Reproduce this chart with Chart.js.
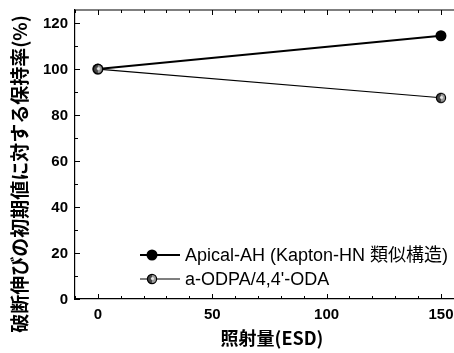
<!DOCTYPE html>
<html>
<head>
<meta charset="utf-8">
<script src="https://cdn.jsdelivr.net/npm/chart.js@4"></script>
<style>
  html, body { margin: 0; padding: 0; background: #fff; }
  #wrap { width: 454px; height: 353px; }
</style>
</head>
<body>
<div id="wrap"><canvas id="chart" width="454" height="353"></canvas></div>
<script>
const doses = [0, 150];
const apicalValues = [100, 114.5];
const odpaValues = [100, 87.5];
const xTicks = [0, 50, 100, 150];
const yTicks = [0, 20, 40, 60, 80, 100, 120];

const FONT = "'Liberation Sans', 'Noto Sans CJK JP', sans-serif";
const CJK = "'Noto Sans CJK JP', sans-serif";

// half-shaded marker for the a-ODPA series
function shadedDot() {
    const c = document.createElement('canvas');
    c.width = 12; c.height = 12;
    const g = c.getContext('2d');
    g.beginPath();
    g.arc(6, 6, 4.6, 0, Math.PI * 2);
    g.fillStyle = '#9a9a9a';
    g.fill();
    g.beginPath();
    g.arc(6, 6, 4.6, Math.PI * 0.5, Math.PI * 1.5);
    g.fillStyle = '#444';
    g.fill();
    g.beginPath();
    g.arc(6.5, 5.5, 1.6, 0, Math.PI * 2);
    g.fillStyle = '#e6e6e6';
    g.fill();
    g.beginPath();
    g.arc(6, 6, 4.6, 0, Math.PI * 2);
    g.lineWidth = 1.2;
    g.strokeStyle = '#000';
    g.stroke();
    return c;
}
const odpaDot = shadedDot();

// frame, inward ticks, tick labels, legend and axis titles
const framePlugin = {
    id: 'frame',
    afterDraw(chart) {
        const ctx = chart.ctx;
        const a = chart.chartArea;
        const xs = chart.scales.x, ys = chart.scales.y;
        ctx.save();
        ctx.strokeStyle = '#000';
        ctx.lineWidth = 1.2;
        ctx.beginPath();
        ctx.moveTo(a.left, a.top);
        ctx.lineTo(a.right, a.top);
        ctx.stroke();
        ctx.lineWidth = 1;
        for (let v = 0; v <= 120; v += 10) {
            const y = Math.round(ys.getPixelForValue(v)) + 0.5;
            const len = v % 20 === 0 ? 5 : 3;
            ctx.beginPath();
            ctx.moveTo(a.left, y);
            ctx.lineTo(a.left + len, y);
            ctx.stroke();
        }
        for (let v = -10; v <= 150; v += 10) {
            const x = Math.round(xs.getPixelForValue(v)) + 0.5;
            const len = v % 50 === 0 ? 5 : 3;
            ctx.beginPath();
            ctx.moveTo(x, a.bottom);
            ctx.lineTo(x, a.bottom - len);
            ctx.moveTo(x, a.top);
            ctx.lineTo(x, a.top + len);
            ctx.stroke();
        }

        // tick labels
        ctx.fillStyle = '#000';
        ctx.font = 'bold 15px ' + FONT;
        ctx.textBaseline = 'middle';
        ctx.textAlign = 'right';
        yTicks.forEach(v => ctx.fillText(String(v), a.left - 7, ys.getPixelForValue(v) + 1));
        ctx.textAlign = 'center';
        xTicks.forEach(v => ctx.fillText(String(v), xs.getPixelForValue(v), a.bottom + 16));

        // legend
        const rows = [255, 279];
        chart.data.datasets.forEach((ds, i) => {
            const y = rows[i];
            ctx.strokeStyle = '#000';
            ctx.lineWidth = ds.borderWidth;
            ctx.beginPath();
            ctx.moveTo(140, y);
            ctx.lineTo(180, y);
            ctx.stroke();
            if (ds.pointStyle === 'circle') {
                ctx.beginPath();
                ctx.arc(152, y, ds.pointRadius, 0, Math.PI * 2);
                ctx.fillStyle = '#000';
                ctx.fill();
            } else {
                ctx.drawImage(ds.pointStyle, 146, y - 6);
            }
            ctx.fillStyle = '#000';
            ctx.font = '18px ' + FONT;
            ctx.textAlign = 'left';
            ctx.fillText(ds.label, 185, y + 1);
        });

        // axis titles
        ctx.font = 'bold 18px ' + CJK;
        ctx.textAlign = 'center';
        ctx.fillText('照射量(ESD)', 272, 338);

        ctx.translate(20, 174);
        ctx.rotate(-Math.PI / 2);
        ctx.font = 'bold 19px ' + CJK;
        ctx.fillText('破断伸びの初期値に対する保持率(%)', 0, 0);
        ctx.restore();
    }
};

new Chart(document.getElementById('chart'), {
    type: 'scatter',
    data: {
        datasets: [{
            label: 'Apical-AH (Kapton-HN 類似構造)',
            data: doses.map((d, i) => ({ x: d, y: apicalValues[i] })),
            showLine: true,
            order: 1,
            clip: false,
            borderColor: '#000',
            backgroundColor: '#000',
            borderWidth: 2,
            pointStyle: 'circle',
            pointRadius: 5.5,
            pointBorderWidth: 0
        }, {
            label: 'a-ODPA/4,4\'-ODA',
            data: doses.map((d, i) => ({ x: d, y: odpaValues[i] })),
            showLine: true,
            order: 0,
            clip: false,
            borderColor: '#000',
            backgroundColor: '#888',
            borderWidth: 1.1,
            pointStyle: odpaDot,
            pointRadius: 5
        }]
    },
    options: {
        responsive: false,
        animation: false,
        layout: { autoPadding: false, padding: { top: 10, left: 0, right: 0, bottom: 0 } },
        plugins: {
            legend: { display: false },
            tooltip: { enabled: false }
        },
        scales: {
            x: {
                type: 'linear',
                min: -10,
                max: 155.7,
                afterBuildTicks: s => { s.ticks = xTicks.map(v => ({ value: v })); },
                afterFit: s => { s.height = 54; },
                grid: { display: false, drawTicks: false },
                border: { display: true, color: '#000', width: 1.2 },
                ticks: { display: false }
            },
            y: {
                min: 0,
                max: 125.7,
                afterBuildTicks: s => { s.ticks = yTicks.map(v => ({ value: v })); },
                afterFit: s => { s.width = 75; },
                grid: { display: false, drawTicks: false },
                border: { display: true, color: '#000', width: 1.2 },
                ticks: { display: false }
            }
        }
    },
    plugins: [framePlugin]
});
</script>
</body>
</html>
